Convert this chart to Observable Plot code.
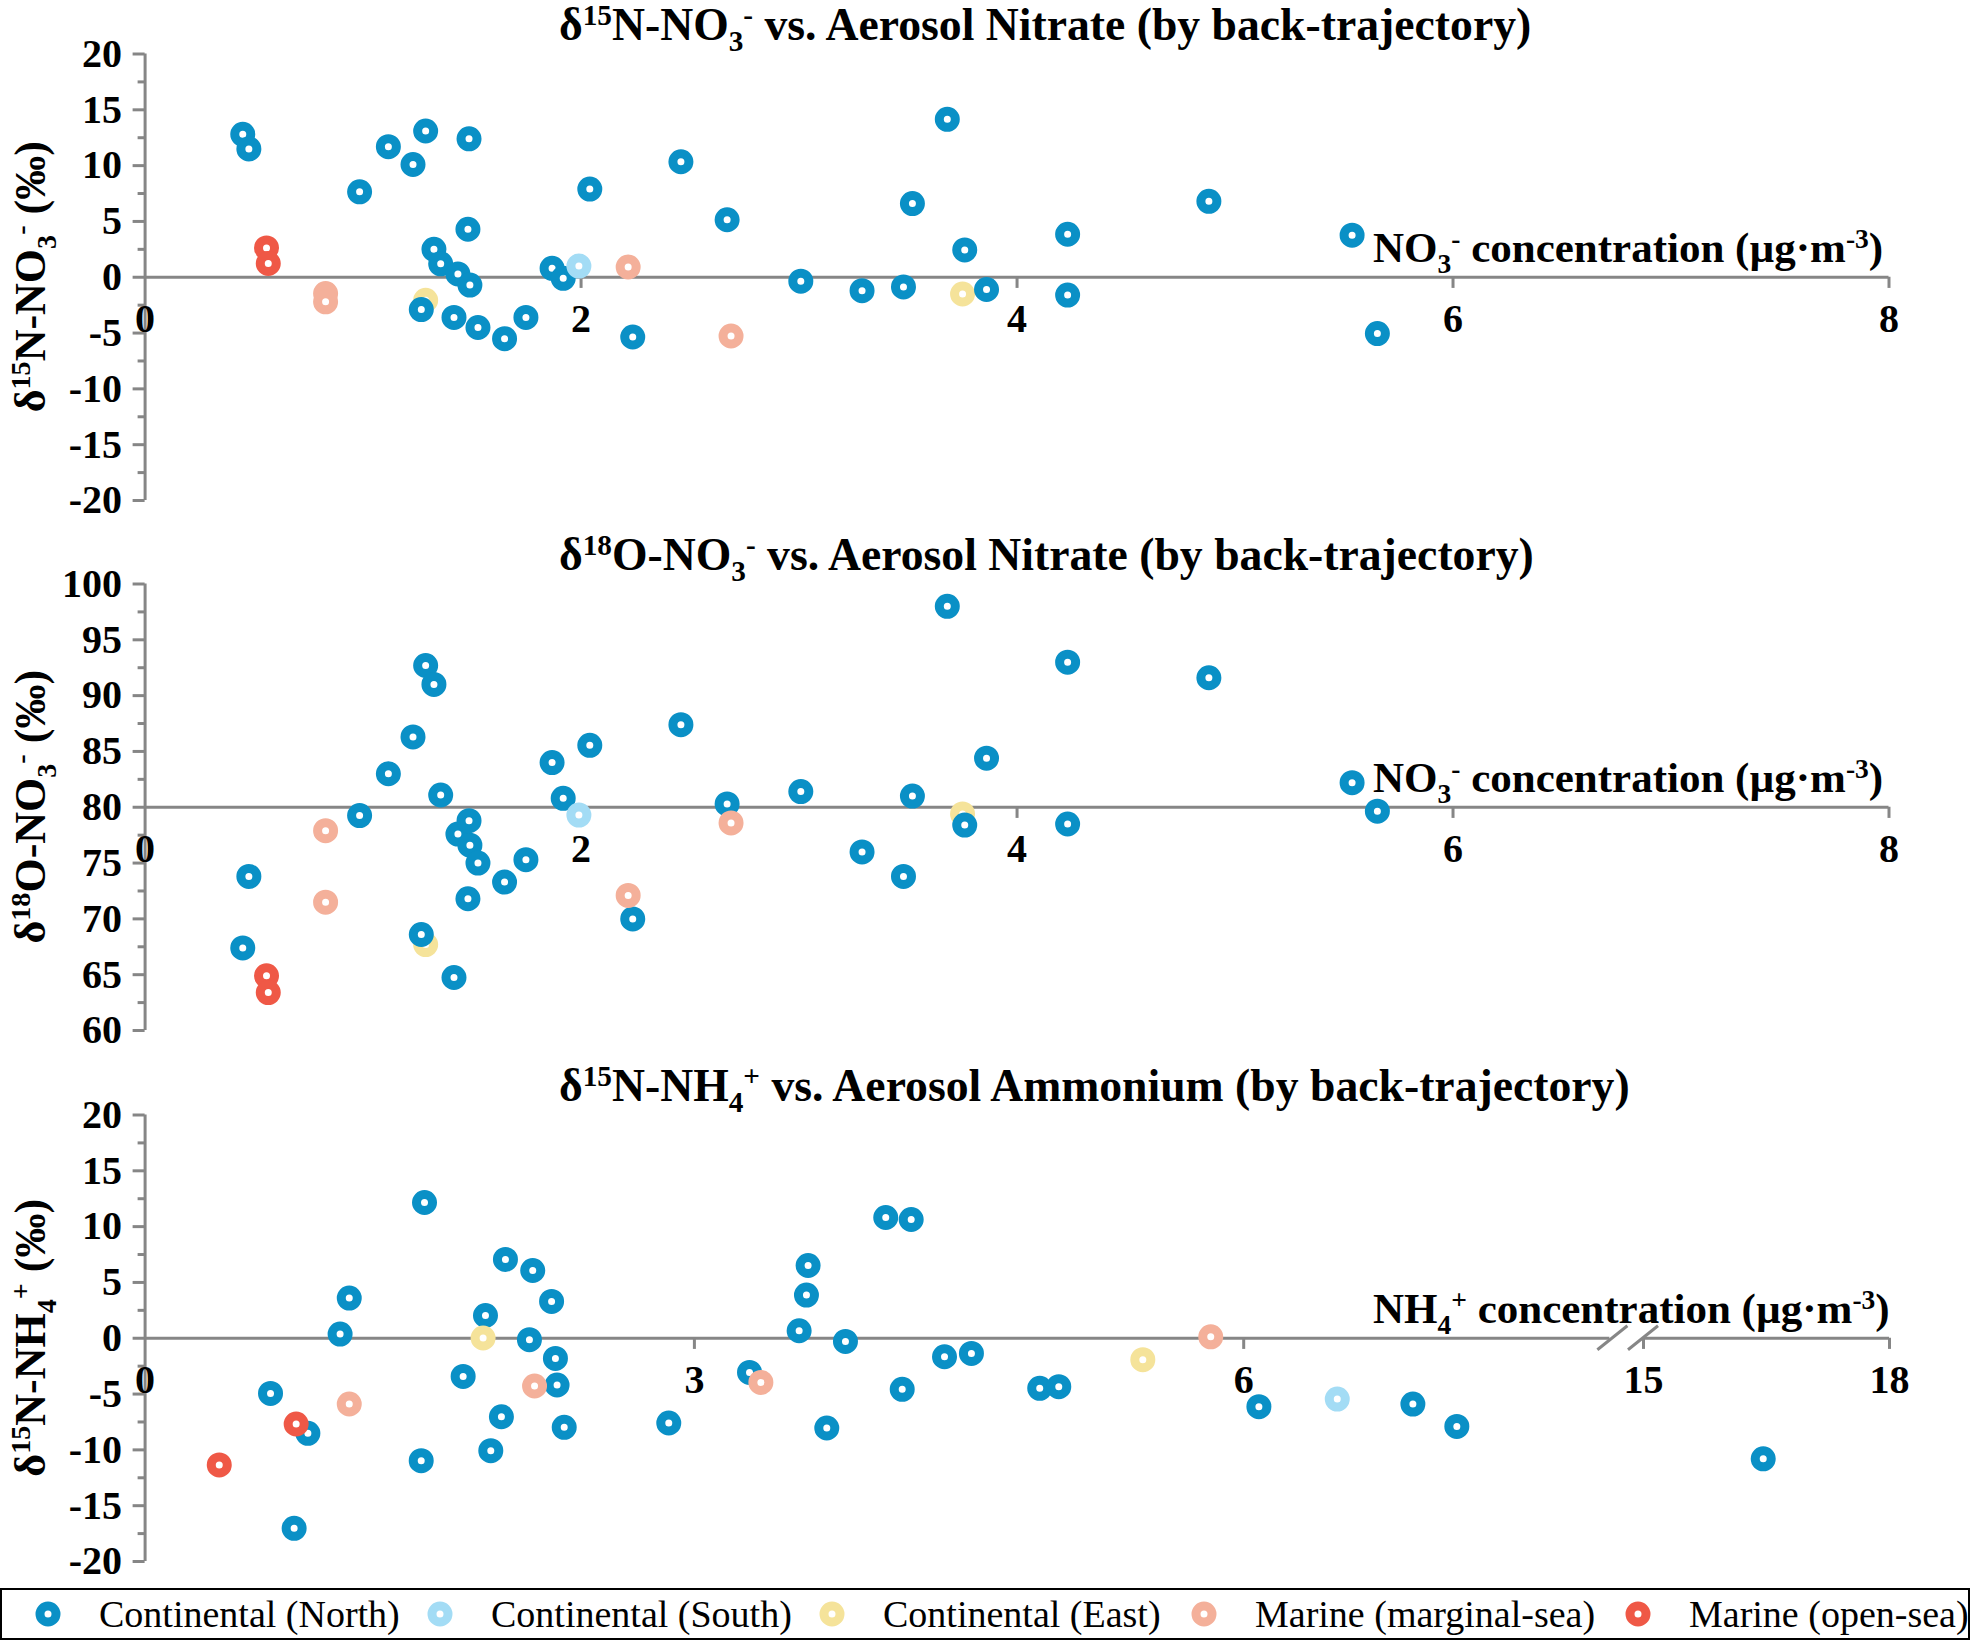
<!DOCTYPE html>
<html><head><meta charset="utf-8">
<script src="https://cdn.jsdelivr.net/npm/d3@7"></script>
<script src="https://cdn.jsdelivr.net/npm/@observablehq/plot@0.6"></script>
<style>
html,body{margin:0;padding:0;background:#fff;overflow:hidden}
#fig{position:relative;width:1971px;height:1641px;background:#fff}
#fig svg{position:absolute;left:0}
</style></head><body><div id="fig"></div><script>
const GRAY = "#868686";
const FONT = "'Liberation Serif','Times New Roman',serif";

// Categories (back-trajectory) and colours
const catNames = ["Continental (North)", "Continental (South)", "Continental (East)", "Marine (marginal-sea)", "Marine (open-sea)"];
const catColors = ["#0a90c6", "#a3dcf5", "#f5e39a", "#f4b09a", "#ef5846"];

// Aerosol nitrate samples: NO3- concentration (ug m-3), d15N-NO3- (permil), d18O-NO3- (permil)
const no3ConcNorth = [0.448, 0.476, 0.984, 1.116, 1.229, 1.287, 1.325, 1.356, 1.435, 1.49, 1.486, 1.481, 1.267, 1.417, 1.527, 1.649, 1.747, 1.867, 1.918, 2.04, 2.237, 2.458, 2.67, 3.008, 3.289, 3.479, 3.52, 3.68, 3.76, 3.86, 4.232, 4.232, 4.88, 5.537, 5.653];
const d15NNO3North = [12.8, 11.5, 7.65, 11.7, 10.1, 13.1, 2.5, 1.2, 0.3, -0.7, 12.4, 4.3, -2.9, -3.6, -4.5, -5.5, -3.6, 0.8, -0.1, 7.9, -5.35, 10.35, 5.15, -0.35, -1.2, -0.87, 6.6, 14.15, 2.45, -1.1, 3.85, -1.6, 6.8, 3.77, -5.05];
const d18ONO3North = [67.4, 73.8, 79.25, 83.0, 86.3, 92.7, 91.0, 81.1, 77.6, 76.6, 78.8, 71.8, 68.6, 64.75, 75.0, 73.3, 75.3, 84.0, 80.8, 85.55, 70.0, 87.4, 80.3, 81.4, 76.0, 73.8, 81.0, 98.0, 78.4, 84.4, 93.0, 78.5, 91.6, 82.2, 79.65];
const no3ConcSouth = [1.99];
const d15NNO3South = [1.0];
const d18ONO3South = [79.3];
const no3ConcEast = [1.287, 3.75];
const d15NNO3East = [-2.06, -1.5];
const d18ONO3East = [67.7, 79.4];
const no3ConcMarginal = [0.828, 0.828, 2.216, 2.688];
const d15NNO3Marginal = [-1.46, -2.2, 0.92, -5.26];
const d18ONO3Marginal = [77.9, 71.5, 72.1, 78.6];
const no3ConcOpen = [0.557, 0.565];
const d15NNO3Open = [2.63, 1.23];
const d18ONO3Open = [64.9, 63.4];

// Aerosol ammonium samples: NH4+ concentration (ug m-3), d15N-NH4+ (permil)
const nh4ConcNorth = [0.685, 0.889, 0.814, 1.065, 1.115, 1.526, 1.508, 1.737, 1.859, 1.968, 2.117, 2.22, 2.099, 2.241, 2.25, 1.946, 1.888, 2.289, 2.86, 3.301, 3.572, 3.612, 3.621, 3.723, 3.825, 4.045, 4.184, 4.135, 4.366, 4.513, 4.886, 4.99, 6.083, 6.924, 7.164, 16.46];
const d15NNH4North = [-4.94, -8.52, -17.03, 0.37, 3.6, 12.16, -10.97, -3.42, 2.04, 7.06, 6.07, 3.3, -0.13, -1.81, -4.19, -7.03, -10.07, -7.98, -7.59, -3.06, 0.67, 3.87, 6.52, -8.04, -0.28, 10.82, 10.64, -4.58, -1.66, -1.36, -4.49, -4.34, -6.13, -5.9, -7.9, -10.8];
const nh4ConcSouth = [6.511];
const d15NNH4South = [-5.45];
const nh4ConcEast = [1.846, 5.449];
const d15NNH4East = [0.02, -1.92];
const nh4ConcMarginal = [1.115, 2.127, 3.363, 5.82];
const d15NNH4Marginal = [-5.89, -4.28, -3.96, 0.13];
const nh4ConcOpen = [0.405, 0.825];
const d15NNH4Open = [-11.35, -7.68];

// Axis ticks
const yMajor15N = [-20, -15, -10, -5, 0, 5, 10, 15, 20];
const yMinor15N = [-17.5, -12.5, -7.5, -2.5, 2.5, 7.5, 12.5, 17.5];
const yMajor18O = [60, 65, 70, 75, 80, 85, 90, 95, 100];
const yMinor18O = [62.5, 67.5, 72.5, 77.5, 82.5, 87.5, 92.5, 97.5];
const xLabelsNO3 = [0, 2, 4, 6, 8];
const xLabelsNH4 = [0, 3, 6, 15, 18];

function rows(xs, ys, cat) { return xs.map((x, i) => ({x, y: ys[i], cat})); }

const no3d15N = [
  ...rows(no3ConcEast, d15NNO3East, catNames[2]),
  ...rows(no3ConcNorth, d15NNO3North, catNames[0]),
  ...rows(no3ConcSouth, d15NNO3South, catNames[1]),
  ...rows(no3ConcMarginal, d15NNO3Marginal, catNames[3]),
  ...rows(no3ConcOpen, d15NNO3Open, catNames[4])
];
const no3d18O = [
  ...rows(no3ConcEast, d18ONO3East, catNames[2]),
  ...rows(no3ConcNorth, d18ONO3North, catNames[0]),
  ...rows(no3ConcSouth, d18ONO3South, catNames[1]),
  ...rows(no3ConcMarginal, d18ONO3Marginal, catNames[3]),
  ...rows(no3ConcOpen, d18ONO3Open, catNames[4])
];
const nh4d15N = [
  ...rows(nh4ConcNorth, d15NNH4North, catNames[0]),
  ...rows(nh4ConcSouth, d15NNH4South, catNames[1]),
  ...rows(nh4ConcEast, d15NNH4East, catNames[2]),
  ...rows(nh4ConcMarginal, d15NNH4Marginal, catNames[3]),
  ...rows(nh4ConcOpen, d15NNH4Open, catNames[4])
];

function rich(textSel, segs, size) {
  let cur = 0;
  for (const [t, k] of segs) {
    const off = k === 1 ? -0.33 * size : k === -1 ? 0.25 * size : 0;
    textSel.append("tspan").attr("dy", off - cur).attr("font-size", k ? size * 0.64 : size).text(t);
    cur = off;
  }
}

const fig = document.getElementById("fig");

function panel(o) {
  const yLo = o.yDomain[0], yHi = o.yDomain[1];
  const svg = Plot.plot({
    width: 1971, height: o.height,
    marginLeft: 144.6, marginRight: 82.5, marginTop: 53.5, marginBottom: o.height - 500,
    style: {background: "transparent", maxWidth: "none", fontFamily: FONT, overflow: "visible"},
    x: {type: "linear", domain: o.xDomain, range: o.xRange, axis: null},
    y: {domain: o.yDomain, range: [500, 53.5]},
    color: {domain: catNames, range: catColors},
    marks: [
      Plot.ruleX([0], {y1: yLo, y2: yHi, stroke: GRAY, strokeWidth: 3}),
      ...o.xSegs.map(([a, b]) => Plot.ruleY([o.yAxisAt], {x1: a, x2: b, stroke: GRAY, strokeWidth: 3})),
      Plot.ruleX(o.xTickMarks, {x: d => d, y1: o.yAxisAt, y2: o.yAxisAt - 1, stroke: GRAY, strokeWidth: 3}),
      Plot.axisY(o.yMinor, {anchor: "left", tickSize: 7, stroke: GRAY, strokeWidth: 3, tickFormat: () => "", label: null}),
      Plot.axisY(o.yMajor, {anchor: "left", tickSize: 12, tickPadding: 11, stroke: GRAY, strokeWidth: 3, fill: "black",
        fontSize: 40, fontWeight: "bold", fontFamily: FONT, tickFormat: d => String(d), label: null}),
      Plot.text(o.xLabels, {x: d => d, y: o.yAxisAt, dy: 42, text: d => String(d), fill: "black",
        fontSize: 40, fontWeight: "bold", fontFamily: FONT}),
      Plot.dot(o.data, {x: "x", y: "y", stroke: "cat", fill: "white", r: 8, strokeWidth: 9})
    ]
  });
  svg.style.top = o.top + "px";
  const s = d3.select(svg);
  const yPix = svg.scale("y").apply(o.yAxisAt);
  // title
  rich(s.append("text").attr("x", 559).attr("y", 40).attr("text-anchor", "start").attr("font-family", FONT)
    .attr("font-weight", "bold").attr("fill", "black"), o.title, 45.7);
  // x-axis label
  rich(s.append("text").attr("x", 1373).attr("y", yPix - 15).attr("text-anchor", "start").attr("font-family", FONT)
    .attr("font-weight", "bold").attr("fill", "black"), o.xlabel, 43);
  // y-axis label
  rich(s.append("text").attr("transform", `translate(45,${(500 + 53.5) / 2}) rotate(-90)`).attr("text-anchor", "middle")
    .attr("font-family", FONT).attr("font-weight", "bold").attr("fill", "black"), o.ylabel, 44);
  if (o.breakAt) {
    const xs = svg.scale("x");
    for (const v of o.breakAt) {
      const px = xs.apply(v[0]) + v[1];
      s.append("line").attr("x1", px - 15).attr("y1", yPix + 12).attr("x2", px + 15).attr("y2", yPix - 12)
        .attr("stroke", GRAY).attr("stroke-width", 3);
    }
  }
  fig.appendChild(svg);
}

panel({
  top: 0, height: 530, data: no3d15N, yDomain: [-20, 20], yMajor: yMajor15N, yMinor: yMinor15N, yAxisAt: 0,
  xDomain: [0, 8], xRange: [144.6, 1888.5], xSegs: [[0, 8]], xTickMarks: [2, 4, 6, 8], xLabels: xLabelsNO3,
  title: [["δ", 0], ["15", 1], ["N-NO", 0], ["3", -1], ["-", 1], [" vs. Aerosol Nitrate (by back-trajectory)", 0]],
  xlabel: [["NO", 0], ["3", -1], ["-", 1], [" concentration (µg·m", 0], ["-3", 1], [")", 0]],
  ylabel: [["δ", 0], ["15", 1], ["N-NO", 0], ["3", -1], ["-", 1], [" (‰)", 0]]
});
panel({
  top: 529.5, height: 530, data: no3d18O, yDomain: [60, 100], yMajor: yMajor18O, yMinor: yMinor18O, yAxisAt: 80,
  xDomain: [0, 8], xRange: [144.6, 1888.5], xSegs: [[0, 8]], xTickMarks: [2, 4, 6, 8], xLabels: xLabelsNO3,
  title: [["δ", 0], ["18", 1], ["O-NO", 0], ["3", -1], ["-", 1], [" vs. Aerosol Nitrate (by back-trajectory)", 0]],
  xlabel: [["NO", 0], ["3", -1], ["-", 1], [" concentration (µg·m", 0], ["-3", 1], [")", 0]],
  ylabel: [["δ", 0], ["18", 1], ["O-NO", 0], ["3", -1], ["-", 1], [" (‰)", 0]]
});
panel({
  top: 1060.5, height: 528, data: nh4d15N, yDomain: [-20, 20], yMajor: yMajor15N, yMinor: yMinor15N, yAxisAt: 0,
  xDomain: [0, 8, 15, 18], xRange: [144.6, 1609.4, 1643, 1889], xSegs: [[0, 8], [15, 18]], xTickMarks: [3, 6, 15, 18], xLabels: xLabelsNH4,
  breakAt: [[8, 3], [15, 0]],
  title: [["δ", 0], ["15", 1], ["N-NH", 0], ["4", -1], ["+", 1], [" vs. Aerosol Ammonium (by back-trajectory)", 0]],
  xlabel: [["NH", 0], ["4", -1], ["+", 1], [" concentration (µg·m", 0], ["-3", 1], [")", 0]],
  ylabel: [["δ", 0], ["15", 1], ["N-NH", 0], ["4", -1], ["+", 1], [" (‰)", 0]]
});

// Legend
const legX = [48, 440, 832, 1204, 1638];
const leg = d3.create("svg").attr("width", 1971).attr("height", 53).style("top", "1588px");
leg.append("rect").attr("x", 1).attr("y", 1).attr("width", 1968).attr("height", 50)
  .attr("fill", "white").attr("stroke", "black").attr("stroke-width", 2);
catNames.forEach((name, i) => {
  leg.append("circle").attr("cx", legX[i]).attr("cy", 26).attr("r", 8)
    .attr("fill", "white").attr("stroke", catColors[i]).attr("stroke-width", 9);
  leg.append("text").attr("x", legX[i] + 51).attr("y", 39).attr("font-family", FONT)
    .attr("font-size", 38).attr("fill", "black").text(name);
});
fig.appendChild(leg.node());
</script></body></html>
